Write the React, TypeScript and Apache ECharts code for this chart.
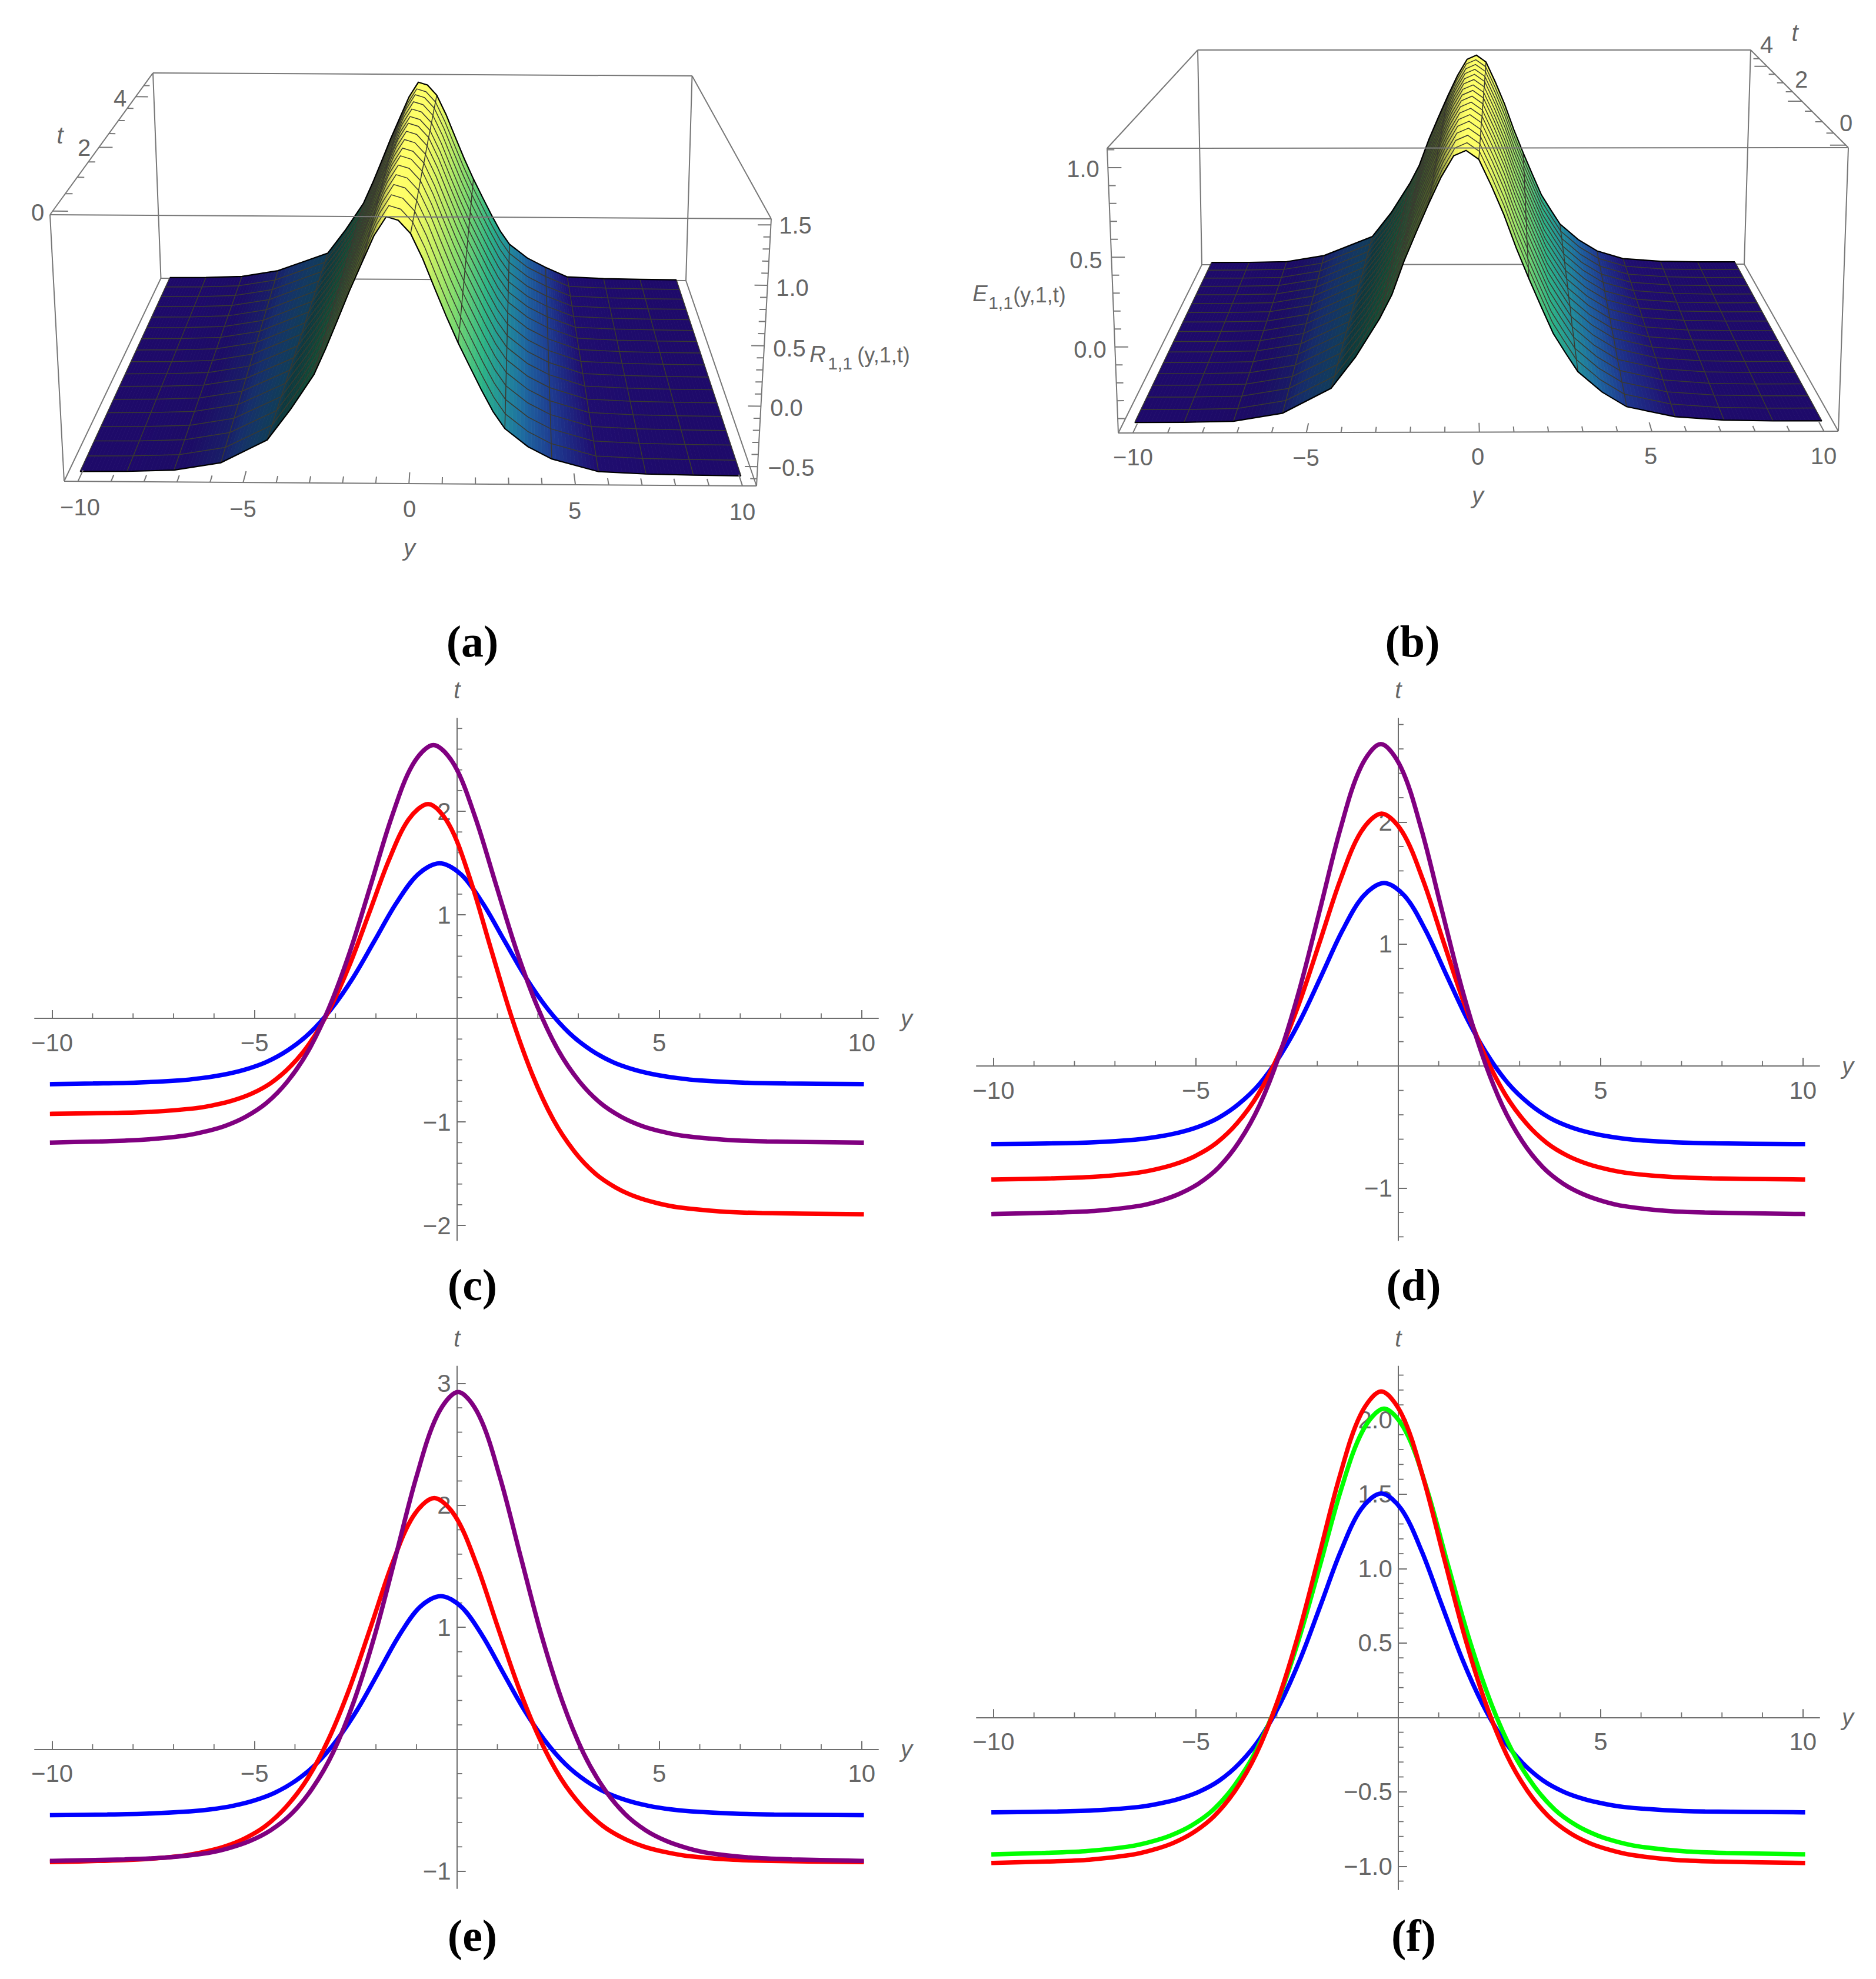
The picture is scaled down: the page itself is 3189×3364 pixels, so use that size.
import React, { useEffect, useRef } from "react";
import * as echarts from "echarts";

const W = 3189;
const H = 3364;
const SANS = "Liberation Sans";
const GREY = "#666666";
const AXIS = "#6e6e6e";
const BLUE = "#0000ff";
const RED = "#ff0000";
const PURPLE = "#800080";
const GREEN = "#00ff00";

/* ---------- 2D panels: curve samples ---------- */
const cBlueY = [-10,-8.99,-7.92,-6.85,-6.315,-5.78,-5.245,-4.71,-4.175,-3.64,-3.105,-2.57,-2.035,-1.5,-0.965,-0.43,0.105,0.64,1.175,1.71,2.245,2.78,3.315,3.85,4.385,4.92,5.455,5.99,7.06,8.13,10];
const cBlueV = [-0.635,-0.629,-0.62,-0.599,-0.577,-0.545,-0.496,-0.422,-0.307,-0.143,0.09,0.39,0.749,1.111,1.39,1.497,1.39,1.111,0.749,0.39,0.09,-0.143,-0.307,-0.422,-0.496,-0.545,-0.577,-0.599,-0.62,-0.629,-0.635];
const cRedY = [-10,-8.47,-7.5,-6.53,-6.045,-5.56,-5.075,-4.59,-4.105,-3.62,-3.135,-2.65,-2.165,-1.68,-1.195,-0.71,-0.195,0.32,0.835,1.35,1.865,2.38,2.895,3.41,3.925,4.44,4.955,5.47,6.5,7.53,10];
const cRedV = [-0.922,-0.913,-0.901,-0.871,-0.841,-0.796,-0.728,-0.623,-0.461,-0.231,0.095,0.517,1.02,1.528,1.92,2.07,1.872,1.353,0.679,0.014,-0.545,-0.977,-1.282,-1.496,-1.634,-1.726,-1.785,-1.825,-1.864,-1.88,-1.892];
const cPurpleY = [-10,-8.82,-7.79,-6.76,-6.245,-5.73,-5.215,-4.7,-4.185,-3.67,-3.155,-2.64,-2.125,-1.61,-1.095,-0.58,-0.065,0.45,0.965,1.48,1.995,2.51,3.025,3.54,4.055,4.57,5.085,5.6,6.63,7.66,10];
const cPurpleV = [-1.2,-1.188,-1.173,-1.135,-1.096,-1.039,-0.95,-0.816,-0.609,-0.313,0.106,0.647,1.292,1.945,2.448,2.64,2.448,1.945,1.292,0.647,0.106,-0.313,-0.609,-0.816,-0.95,-1.039,-1.096,-1.135,-1.173,-1.188,-1.2];

const dBlueY = [-10,-8.55,-7.525,-6.5,-5.988,-5.475,-4.963,-4.45,-3.938,-3.425,-2.913,-2.4,-1.888,-1.375,-0.863,-0.35,0.163,0.675,1.188,1.7,2.213,2.725,3.238,3.75,4.263,4.775,5.288,5.8,6.825,7.85,10];
const dBlueV = [-0.64,-0.634,-0.625,-0.604,-0.582,-0.55,-0.501,-0.426,-0.31,-0.146,0.088,0.389,0.749,1.113,1.393,1.5,1.393,1.113,0.749,0.389,0.088,-0.146,-0.31,-0.426,-0.501,-0.55,-0.582,-0.604,-0.625,-0.634,-0.64];
const dRedY = [-10,-8.57,-7.55,-6.53,-6.02,-5.51,-5,-4.49,-3.98,-3.47,-2.96,-2.45,-1.94,-1.43,-0.92,-0.41,0.1,0.61,1.12,1.63,2.14,2.65,3.16,3.67,4.18,4.69,5.2,5.71,6.73,7.75,10];
const dRedV = [-0.93,-0.921,-0.909,-0.879,-0.849,-0.804,-0.735,-0.63,-0.468,-0.237,0.09,0.513,1.017,1.527,1.92,2.07,1.92,1.527,1.017,0.513,0.09,-0.237,-0.468,-0.63,-0.735,-0.804,-0.849,-0.879,-0.909,-0.921,-0.93];
const dPurpleY = [-10,-8.43,-7.43,-6.43,-5.93,-5.43,-4.93,-4.43,-3.93,-3.43,-2.93,-2.43,-1.93,-1.43,-0.93,-0.43,0.07,0.57,1.07,1.57,2.07,2.57,3.07,3.57,4.07,4.57,5.07,5.57,6.57,7.57,10];
const dPurpleV = [-1.213,-1.201,-1.186,-1.148,-1.109,-1.051,-0.963,-0.828,-0.62,-0.323,0.097,0.64,1.288,1.943,2.447,2.64,2.447,1.943,1.288,0.64,0.097,-0.323,-0.62,-0.828,-0.963,-1.051,-1.109,-1.148,-1.186,-1.201,-1.213];

const eBlueY = [-10,-8.64,-7.61,-6.58,-6.065,-5.55,-5.035,-4.52,-4.005,-3.49,-2.975,-2.46,-1.945,-1.43,-0.915,-0.4,0.115,0.63,1.145,1.66,2.175,2.69,3.205,3.72,4.235,4.75,5.265,5.78,6.81,7.84,10];
const eBlueV = [-0.54,-0.535,-0.527,-0.509,-0.492,-0.465,-0.423,-0.36,-0.263,-0.125,0.071,0.324,0.626,0.931,1.166,1.256,1.166,0.931,0.626,0.324,0.071,-0.125,-0.263,-0.36,-0.423,-0.465,-0.492,-0.509,-0.527,-0.535,-0.54];
const eRedY = [-10,-8.88,-7.84,-6.8,-6.28,-5.76,-5.24,-4.72,-4.2,-3.68,-3.16,-2.64,-2.12,-1.6,-1.08,-0.56,-0.04,0.48,1,1.52,2.04,2.56,3.08,3.6,4.12,4.64,5.16,5.68,6.72,7.76,10];
const eRedV = [-0.925,-0.916,-0.904,-0.874,-0.844,-0.8,-0.731,-0.627,-0.465,-0.235,0.09,0.511,1.012,1.52,1.911,2.06,1.911,1.52,1.012,0.511,0.09,-0.235,-0.465,-0.627,-0.731,-0.8,-0.844,-0.874,-0.904,-0.916,-0.925];
const ePurpleY = [-10,-8.21,-7.18,-6.15,-5.635,-5.12,-4.605,-4.09,-3.575,-3.06,-2.545,-2.03,-1.515,-1,-0.485,0.03,0.545,1.06,1.575,2.09,2.605,3.12,3.635,4.15,4.665,5.18,5.695,6.21,7.24,8.27,10];
const ePurpleV = [-0.915,-0.903,-0.888,-0.85,-0.811,-0.753,-0.665,-0.53,-0.323,-0.027,0.392,0.934,1.58,2.234,2.738,2.93,2.738,2.234,1.58,0.934,0.392,-0.027,-0.323,-0.53,-0.665,-0.753,-0.811,-0.85,-0.888,-0.903,-0.915];

const fBlueY = [-10,-8.42,-7.42,-6.42,-5.92,-5.42,-4.92,-4.42,-3.92,-3.42,-2.92,-2.42,-1.92,-1.42,-0.92,-0.42,0.08,0.58,1.08,1.58,2.08,2.58,3.08,3.58,4.08,4.58,5.08,5.58,6.58,7.58,10];
const fBlueV = [-0.638,-0.632,-0.623,-0.602,-0.58,-0.548,-0.499,-0.424,-0.308,-0.143,0.091,0.393,0.753,1.117,1.398,1.505,1.398,1.117,0.753,0.393,0.091,-0.143,-0.308,-0.424,-0.499,-0.548,-0.58,-0.602,-0.623,-0.632,-0.638];
const fGreenY = [-10,-8.8,-7.74,-6.69,-6.16,-5.63,-5.1,-4.57,-4.05,-3.52,-2.99,-2.46,-1.93,-1.41,-0.88,-0.35,0.18,0.71,1.23,1.76,2.29,2.82,3.35,3.87,4.4,4.93,5.46,5.99,7.04,8.1,10];
const fGreenV = [-0.92,-0.911,-0.899,-0.869,-0.839,-0.794,-0.725,-0.62,-0.459,-0.228,0.098,0.521,1.024,1.533,1.925,2.075,1.925,1.533,1.024,0.521,0.098,-0.228,-0.459,-0.62,-0.725,-0.794,-0.839,-0.869,-0.899,-0.911,-0.92];
const fRedY = [-10,-8.66,-7.63,-6.6,-6.085,-5.57,-5.055,-4.54,-4.025,-3.51,-2.995,-2.48,-1.965,-1.45,-0.935,-0.42,0.095,0.61,1.125,1.64,2.155,2.67,3.185,3.7,4.215,4.73,5.245,5.76,6.79,7.82,10];
const fRedV = [-0.978,-0.968,-0.956,-0.924,-0.892,-0.845,-0.772,-0.661,-0.49,-0.246,0.099,0.546,1.078,1.617,2.032,2.19,2.032,1.617,1.078,0.546,0.099,-0.246,-0.49,-0.661,-0.772,-0.845,-0.892,-0.924,-0.956,-0.968,-0.978];

const xMajor = [-10, -5, 5, 10];
const xMinor = [-9,-8,-7,-6,-4,-3,-2,-1,1,2,3,4,6,7,8,9];
const cTicks = [-2, -1, 1, 2];
const cMinor = [-1.8,-1.6,-1.4,-1.2,-0.8,-0.6,-0.4,-0.2,0.2,0.4,0.6,0.8,1.2,1.4,1.6,1.8,2.2,2.4,2.6,2.8];
const dTicks = [-1, 1, 2];
const dMinor = [-1.4,-1.2,-0.8,-0.6,-0.4,-0.2,0.2,0.4,0.6,0.8,1.2,1.4,1.6,1.8,2.2,2.4,2.6,2.8];
const eTicks = [-1, 1, 2, 3];
const eMinor = [-0.8,-0.6,-0.4,-0.2,0.2,0.4,0.6,0.8,1.2,1.4,1.6,1.8,2.2,2.4,2.6,2.8];
const fTicks = [-1, -0.5, 0.5, 1, 1.5, 2];
const fMinor = [-1.1,-0.9,-0.8,-0.7,-0.6,-0.4,-0.3,-0.2,-0.1,0.1,0.2,0.3,0.4,0.6,0.7,0.8,0.9,1.1,1.2,1.3,1.4,1.6,1.7,1.8,1.9,2.1,2.2,2.3];

/* ---------- 3D panels: surface samples ---------- */
const surfY = [-10,-8.57,-7.14,-5.71,-4.29,-3.57,-2.86,-2.5,-2.14,-1.79,-1.43,-1.07,-0.71,-0.36,0,0.36,0.71,1.07,1.43,1.79,2.14,2.5,2.86,3.57,4.29,5.71,7.14,8.57,10];
const meshY = [-10,-8.57,-7.14,-5.71,-4.29,-2.86,-1.43,0,1.43,2.86,4.29,5.71,7.14,8.57,10];
const surfT = [0,0.3125,0.625,0.9375,1.25,1.5625,1.875,2.1875,2.5,2.8125,3.125,3.4375,3.75,4.0625,4.375,4.6875,5];
const aProfile = [-0.62,-0.617,-0.604,-0.54,-0.347,-0.09,0.2,0.42,0.66,0.9,1.13,1.36,1.52,1.49,1.38,1.17,0.93,0.69,0.47,0.27,0.08,-0.1,-0.24,-0.39,-0.49,-0.593,-0.61,-0.617,-0.62];
const bProfile = [-0.445,-0.445,-0.44,-0.395,-0.256,-0.08,0.136,0.27,0.46,0.62,0.78,0.93,1.05,1.08,1.03,0.88,0.72,0.53,0.36,0.2,0.05,-0.06,-0.165,-0.28,-0.363,-0.42,-0.44,-0.445,-0.445];
const aRidgeShift = [0,0.035,0.07,0.105,0.14,0.175,0.21,0.245,0.28,0.315,0.35,0.385,0.42,0.455,0.49,0.525,0.56];
const bRidgeShift = [0,0.03,0.05,0.08,0.1,0.13,0.16,0.18,0.21,0.24,0.26,0.29,0.32,0.34,0.37,0.39,0.42];
const aRidgeScale = [1,1,1,1,1,1,1,0.995,0.995,0.995,0.995,0.99,0.99,0.99,0.99,0.985,0.985];
const bRidgeScale = [1,1,1,1,1,1,1,1,1,1,1,1,1,1,1,1,1];

const yMajor3d = [-10, -5, 0, 5, 10];
const yMinor3d = [-9,-8,-7,-6,-4,-3,-2,-1,1,2,3,4,6,7,8,9];
const tMajor3d = [0, 2, 4];
const tMinor3d = [0.5, 1, 1.5, 2.5, 3, 3.5, 4.5];
const aZMajor = [-0.5, 0, 0.5, 1, 1.5];
const aZMinor = [-0.6,-0.4,-0.3,-0.2,-0.1,0.1,0.2,0.3,0.4,0.6,0.7,0.8,0.9,1.1,1.2,1.3,1.4];
const bZMajor = [0, 0.5, 1];
const bZMinor = [-0.4,-0.3,-0.2,-0.1,0.1,0.2,0.3,0.4,0.6,0.7,0.8,0.9,1.1];

const palette = [
  [0, 30, 10, 106],
  [0.015, 31, 14, 112],
  [0.06, 30, 60, 145],
  [0.12, 30, 105, 160],
  [0.18, 33, 140, 155],
  [0.33, 45, 180, 135],
  [0.57, 130, 220, 110],
  [0.78, 200, 240, 100],
  [0.95, 250, 252, 100],
  [1, 255, 255, 105],
];

type P = [number, number];

function homography(q: P[]) {
  const [[x0, y0], [x1, y1], [x2, y2], [x3, y3]] = q;
  const dx1 = x1 - x2, dx2 = x3 - x2, sx = x0 - x1 + x2 - x3;
  const dy1 = y1 - y2, dy2 = y3 - y2, sy = y0 - y1 + y2 - y3;
  const den = dx1 * dy2 - dx2 * dy1;
  const g = (sx * dy2 - dx2 * sy) / den;
  const h = (dx1 * sy - sx * dy1) / den;
  const a = x1 - x0 + g * x1, b = x3 - x0 + h * x3;
  const d = y1 - y0 + g * y1, e = y3 - y0 + h * y3;
  return (u: number, v: number): P => {
    const w = g * u + h * v + 1;
    return [(a * u + b * v + x0) / w, (d * u + e * v + y0) / w];
  };
}

function makeBox(cfg: any) {
  const top = homography([cfg.tfl, cfg.tfr, cfg.tbr, cfg.tbl]);
  const bot = homography([cfg.bfl, cfg.bfr, cfg.bbr, cfg.bbl]);
  const [y0, y1] = cfg.yRange, [t0, t1] = cfg.tRange, [z0, z1] = cfg.zRange;
  const project = (y: number, t: number, z: number): P => {
    const u = (y - y0) / (y1 - y0), v = (t - t0) / (t1 - t0), w = (z - z0) / (z1 - z0);
    const b = bot(u, v), a = top(u, v);
    return [b[0] + (a[0] - b[0]) * w, b[1] + (a[1] - b[1]) * w];
  };
  return { ...cfg, project };
}

const boxA = makeBox({
  tfl: [85, 365], tfr: [1311, 372], tbr: [1176.5, 129], tbl: [260, 124],
  bfl: [109, 818], bfr: [1286, 826], bbr: [1166, 477], bbl: [273.5, 473],
  yRange: [-10.42, 10.42], tRange: [-0.1, 5.1], zRange: [-0.66, 1.55],
  profile: aProfile, shift: aRidgeShift, scale: aRidgeScale,
  zAxisAtRight: false, zMajor: aZMajor, zMinor: aZMinor,
});
const boxB = makeBox({
  tfl: [1882, 252], tfr: [3142, 251], tbr: [2976, 85], tbl: [2036, 85],
  bfl: [1901, 736], bfr: [3125, 733], bbr: [2965, 449], bbl: [2043, 450],
  yRange: [-10.42, 10.42], tRange: [-0.1, 5.1], zRange: [-0.48, 1.108],
  profile: bProfile, shift: bRidgeShift, scale: bRidgeScale,
  zAxisAtRight: true, zMajor: bZMajor, zMinor: bZMinor,
});

function colour(q: number, m: number) {
  const v = Math.max(0, Math.min(1, q));
  let i = 0;
  while (i < palette.length - 2 && v > palette[i + 1][0]) i++;
  const a = palette[i], b = palette[i + 1];
  const f = (v - a[0]) / (b[0] - a[0]);
  const c = [1, 2, 3].map((k) => Math.round((a[k] + (b[k] - a[k]) * f) * m));
  return `rgb(${c[0]},${c[1]},${c[2]})`;
}

function vertex(box: any, row: number, col: number): P {
  const y0 = surfY[col];
  const y = Math.abs(y0) <= 4.3 ? y0 + box.shift[row] : y0;
  const low = box.profile[0];
  const z = low + (box.profile[col] - low) * box.scale[row];
  return box.project(y, surfT[row], z);
}

function shadeTable(box: any) {
  const n = surfY.length;
  const low = box.profile[0];
  const span = Math.max(...box.profile) - low;
  const q = box.profile.map((z: number) => (z - low) / span);
  const s = surfY.map((_y, i) => {
    const a = Math.max(0, i - 1), b = Math.min(n - 1, i + 1);
    return (box.profile[b] - box.profile[a]) / (surfY[b] - surfY[a]) / span;
  });
  return { q, s };
}

const mix = (a: P, b: P, f: number): P => [a[0] + (b[0] - a[0]) * f, a[1] + (b[1] - a[1]) * f];

function surfaceRenderer(box: any) {
  const { q, s } = shadeTable(box);
  return (_: any, api: any) => {
    const row = api.value(2);
    const children: any[] = [];
    if (row >= surfT.length - 1) return { type: "group", children };
    const order: number[] = [];
    const centre = surfY.indexOf(0);
    for (let c = 0; c < centre; c++) order.push(c);
    for (let c = surfY.length - 2; c >= centre; c--) order.push(c);
    for (const c of order) {
      const a0 = vertex(box, row, c), a1 = vertex(box, row, c + 1);
      const b0 = vertex(box, row + 1, c), b1 = vertex(box, row + 1, c + 1);
      const parts = Math.max(1, Math.ceil((surfY[c + 1] - surfY[c]) / 0.12));
      const idx = Array.from({ length: parts }, (_u, k) => (c < centre ? k : parts - 1 - k));
      for (const k of idx) {
        const f0 = k / parts, f1 = (k + 1) / parts, fm = (k + 0.5) / parts;
        const pts = [mix(a0, a1, f0), mix(a0, a1, f1), mix(b0, b1, f1), mix(b0, b1, f0)].map((p) => api.coord(p));
        const qm = q[c] + (q[c + 1] - q[c]) * fm;
        const sm = s[c] + (s[c + 1] - s[c]) * fm;
        let m = 1 - 0.6 * Math.min(1, Math.max(0, sm) / 0.13);
        if (qm > 0.82) m += ((1 - m) * (qm - 0.82)) / 0.18;
        const fill = colour(qm, m);
        children.push({ type: "polygon", shape: { points: pts }, style: { fill, stroke: fill, lineWidth: 0.8 }, silent: true });
      }
    }
    return { type: "group", children };
  };
}

function meshRenderer(box: any) {
  return (_: any, api: any) => {
    const children: any[] = [];
    for (const my of meshY) {
      const c = surfY.indexOf(my);
      const pts = surfT.map((_t, r) => api.coord(vertex(box, r, c)));
      children.push({ type: "polyline", shape: { points: pts }, style: { fill: "none", stroke: "#3a3a30", lineWidth: 1.5 }, silent: true });
    }
    surfT.forEach((_t, r) => {
      const edge = r === 0 || r === surfT.length - 1;
      const pts = surfY.map((_y, c) => api.coord(vertex(box, r, c)));
      children.push({ type: "polyline", shape: { points: pts }, style: { fill: "none", stroke: edge ? "#000000" : "#3a3a30", lineWidth: edge ? 2.2 : 1.5 }, silent: true });
    });
    return { type: "group", children };
  };
}

function boxSegments(box: any, front: boolean) {
  const seg = (a: P, b: P) => [a[0], a[1], b[0], b[1]];
  if (!front) {
    return [
      seg(box.tbl, box.tbr), seg(box.tbl, box.bbl), seg(box.tbr, box.bbr), seg(box.bbl, box.bbr),
      seg(box.tbl, box.tfl), seg(box.tbr, box.tfr), seg(box.bbl, box.bfl), seg(box.bbr, box.bfr),
    ];
  }
  const out = [seg(box.tfl, box.tfr), seg(box.tfl, box.bfl), seg(box.tfr, box.bfr), seg(box.bfl, box.bfr)];
  const [y0, y1] = box.yRange, [t0, t1] = box.tRange, [z0, z1] = box.zRange;
  const yTick = (y: number, l: number) => seg(box.project(y, t0, z0), box.project(y, t0 + l, z0));
  yMajor3d.forEach((y) => out.push(yTick(y, 0.22)));
  yMinor3d.forEach((y) => out.push(yTick(y, 0.13)));
  const tx = box.zAxisAtRight ? y1 : y0;
  const tDir = box.zAxisAtRight ? -1 : 1;
  const tTick = (t: number, l: number) => seg(box.project(tx, t, z1), box.project(tx + tDir * l, t, z1));
  tMajor3d.forEach((t) => out.push(tTick(t, 0.45)));
  tMinor3d.forEach((t) => out.push(tTick(t, 0.22)));
  const zx = box.zAxisAtRight ? y0 : y1;
  const zTick = (z: number, l: number) => seg(box.project(zx, t0, z), box.project(zx - tDir * l, t0, z));
  box.zMajor.forEach((z: number) => out.push(zTick(z, 0.38)));
  box.zMinor.forEach((z: number) => out.push(zTick(z, 0.2)));
  return out;
}

const zip = (xs: number[], ys: number[]) => xs.map((x, i) => [x, ys[i]]);
const minus = (s: string) => s.replace("-", "\u2212");

const panels = [
  {
    grid: { left: 59, top: 1221, width: 1434, height: 887.6 },
    x: [-10.43, 10.41], y: [-2.145, 2.898], ticks: cTicks, minor: cMinor, digits: 0,
    curves: [[cBlueY, cBlueV, BLUE], [cRedY, cRedV, RED], [cPurpleY, cPurpleV, PURPLE]],
  },
  {
    grid: { left: 1660, top: 1221, width: 1433, height: 887.6 },
    x: [-10.42, 10.41], y: [-1.43, 2.851], ticks: dTicks, minor: dMinor, digits: 0,
    curves: [[dBlueY, dBlueV, BLUE], [dRedY, dRedV, RED], [dPurpleY, dPurpleV, PURPLE]],
  },
  {
    grid: { left: 59, top: 2322.6, width: 1434, height: 887.4 },
    x: [-10.43, 10.41], y: [-1.141, 3.14], ticks: eTicks, minor: eMinor, digits: 0,
    curves: [[eBlueY, eBlueV, BLUE], [eRedY, eRedV, RED], [ePurpleY, ePurpleV, PURPLE]],
  },
  {
    grid: { left: 1660, top: 2322.6, width: 1433, height: 889.4 },
    x: [-10.42, 10.41], y: [-1.157, 2.359], ticks: fTicks, minor: fMinor, digits: 1,
    curves: [[fBlueY, fBlueV, BLUE], [fGreenY, fGreenV, GREEN], [fRedY, fRedV, RED]],
  },
];

const text = (t: string, x: number, y: number, o: any = {}) => ({
  type: "text",
  x,
  y,
  silent: true,
  z: 50,
  style: {
    text: t,
    fontFamily: SANS,
    fontSize: 40,
    fill: GREY,
    align: "center",
    verticalAlign: "middle",
    textAlign: "center",
    textVerticalAlign: "middle",
    ...o,
  },
});

const caption = (t: string, x: number, y: number) =>
  text(t, x, y, { fontFamily: "Liberation Serif", fontSize: 76, fontWeight: "bold", fill: "#000000" });

function buildOption() {
  const grids: any[] = [];
  const xAxes: any[] = [];
  const yAxes: any[] = [];
  const series: any[] = [];
  const tickStyle = { color: AXIS, width: 2 };
  panels.forEach((p, i) => {
    grids.push({ ...p.grid, containLabel: false });
    const zeroFromTop = (p.grid.height * p.y[1]) / (p.y[1] - p.y[0]);
    const zeroFromLeft = (p.grid.width * -p.x[0]) / (p.x[1] - p.x[0]);
    xAxes.push({
      type: "value", gridIndex: i, min: p.x[0], max: p.x[1],
      position: "bottom", offset: -(p.grid.height - zeroFromTop),
      name: "y", nameLocation: "end", nameGap: 38,
      nameTextStyle: { fontFamily: SANS, fontStyle: "italic", fontSize: 40, color: GREY, verticalAlign: "middle", padding: [14, 0, 0, 0] },
      axisLine: { onZero: false, lineStyle: tickStyle },
      axisTick: { customValues: xMajor, inside: true, length: 14, lineStyle: tickStyle },
      axisLabel: { customValues: xMajor, margin: 20, fontFamily: SANS, fontSize: 42, color: GREY, formatter: (v: number) => minus(String(v)) },
      splitLine: { show: false },
    });
    yAxes.push({
      type: "value", gridIndex: i, min: p.y[0], max: p.y[1],
      position: "left", offset: -zeroFromLeft,
      name: "t", nameLocation: "end", nameGap: 28,
      nameTextStyle: { fontFamily: SANS, fontStyle: "italic", fontSize: 40, color: GREY, align: "center" },
      axisLine: { onZero: false, lineStyle: tickStyle },
      axisTick: { customValues: p.ticks, inside: true, length: 15, lineStyle: tickStyle },
      axisLabel: { customValues: p.ticks, margin: 10, fontFamily: SANS, fontSize: 42, color: GREY, formatter: (v: number) => minus(v.toFixed(p.digits)) },
      splitLine: { show: false },
    });
    p.curves.forEach((c: any, k) => {
      series.push({
        type: "line", name: `panel ${i} curve ${k}`, xAxisIndex: i, yAxisIndex: i, z: 3 + k,
        data: zip(c[0], c[1]), symbol: "none", showSymbol: false, smooth: 0.33,
        lineStyle: { color: c[2], width: 7.5, cap: "square" }, clip: false, silent: true,
      });
    });
    const minor = [...xMinor.map((v) => [v, 0]), ...p.minor.map((v) => [v, 1])];
    series.push({
      type: "custom", name: `panel ${i} minor ticks`, xAxisIndex: i, yAxisIndex: i, z: 1, silent: true, clip: false,
      data: minor,
      renderItem: (_: any, api: any) => {
        const v = api.value(0);
        const horizontal = api.value(1) === 1;
        const pt = api.coord(horizontal ? [0, v] : [v, 0]);
        const shape = horizontal
          ? { x1: pt[0], y1: pt[1], x2: pt[0] + 9, y2: pt[1] }
          : { x1: pt[0], y1: pt[1], x2: pt[0], y2: pt[1] - 8.6 };
        return { type: "line", shape, style: { stroke: AXIS, lineWidth: 1.8 }, silent: true };
      },
    });
  });

  const pageIndex = panels.length;
  grids.push({ left: 0, top: 0, width: W, height: H });
  xAxes.push({ type: "value", gridIndex: pageIndex, min: 0, max: W, show: false });
  yAxes.push({ type: "value", gridIndex: pageIndex, min: 0, max: H, inverse: true, show: false });

  const segSeries = (name: string, data: number[][], z: number) => ({
    type: "custom", name, xAxisIndex: pageIndex, yAxisIndex: pageIndex, z, silent: true, clip: false,
    data, encode: { x: [0, 2], y: [1, 3] },
    renderItem: (_: any, api: any) => {
      const a = api.coord([api.value(0), api.value(1)]);
      const b = api.coord([api.value(2), api.value(3)]);
      return { type: "line", shape: { x1: a[0], y1: a[1], x2: b[0], y2: b[1] }, style: { stroke: "#777777", lineWidth: 2 }, silent: true };
    },
  });
  [boxA, boxB].forEach((box, b) => {
    series.push(segSeries(`box ${b} back`, boxSegments(box, false), 1));
    series.push({
      type: "custom", name: `surface ${b}`, xAxisIndex: pageIndex, yAxisIndex: pageIndex, z: 2, silent: true, clip: false,
      data: surfT.map((_t, r) => [0, 0, surfT.length - 1 - r]),
      encode: { x: 0, y: 1 },
      renderItem: surfaceRenderer(box),
    });
    series.push({
      type: "custom", name: `surface mesh ${b}`, xAxisIndex: pageIndex, yAxisIndex: pageIndex, z: 3, silent: true, clip: false,
      data: [[0, 0]],
      encode: { x: 0, y: 1 },
      renderItem: meshRenderer(box),
    });
    series.push(segSeries(`box ${b} front`, boxSegments(box, true), 4));
  });

  const elements = [
    // panel (a)
    text("\u221210", 136, 862), text("\u22125", 413, 865), text("0", 696, 865), text("5", 977, 868), text("10", 1262, 870),
    text("y", 696, 931, { fontStyle: "italic" }),
    text("0", 64, 361), text("2", 143, 251), text("4", 204, 167),
    text("t", 102, 230, { fontStyle: "italic" }),
    text("1.5", 1352, 383), text("1.0", 1347, 489), text("0.5", 1342, 592), text("0.0", 1337, 693), text("\u22120.5", 1345, 795),
    text("R", 1390, 602, { fontStyle: "italic", fontSize: 38 }), text("1,1", 1428, 617, { fontSize: 30 }), text("(y,1,t)", 1502, 603, { fontSize: 36 }),
    // panel (b)
    text("\u221210", 1926, 777), text("\u22125", 2220, 778), text("0", 2512, 776), text("5", 2806, 775), text("10", 3100, 775),
    text("y", 2512, 842, { fontStyle: "italic" }),
    text("4", 3003, 76), text("2", 3062, 135), text("0", 3138, 209),
    text("t", 3051, 56, { fontStyle: "italic" }),
    text("1.0", 1841, 287), text("0.5", 1846, 442), text("0.0", 1853, 594),
    text("E", 1666, 499, { fontStyle: "italic", fontSize: 38 }), text("1,1", 1701, 514, { fontSize: 30 }), text("(y,1,t)", 1767, 501, { fontSize: 36 }),
    caption("(a)", 803, 1090), caption("(b)", 2401, 1090),
    caption("(c)", 803, 2184), caption("(d)", 2403, 2184),
    caption("(e)", 803, 3290), caption("(f)", 2403, 3290),
  ];

  return {
    animation: false,
    backgroundColor: "#ffffff",
    grid: grids,
    xAxis: xAxes,
    yAxis: yAxes,
    series,
    graphic: { elements },
  };
}

export default function App() {
  const ref = useRef<HTMLDivElement>(null);
  useEffect(() => {
    document.body.style.margin = "0";
    const chart = echarts.init(ref.current as HTMLDivElement, undefined, { renderer: "svg" });
    chart.setOption(buildOption() as any);
    return () => chart.dispose();
  }, []);
  return <div ref={ref} style={{ width: W, height: H }} />;
}
